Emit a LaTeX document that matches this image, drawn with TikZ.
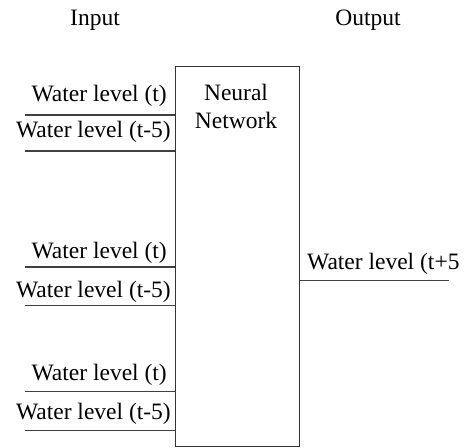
\documentclass[tikz,border=0pt]{standalone}
\usepackage{fontspec}
\setmainfont{Liberation Serif}
\begin{document}
\begin{tikzpicture}[x=1pt,y=-1pt,
  lbl/.style={inner sep=0pt, font=\fontsize{23.5}{28}\selectfont, text=black},
  wire/.style={draw=black!75, line width=1.1pt},
  nnbox/.style={draw=black!80, line width=1.2pt, minimum width=124pt, minimum height=380pt, inner sep=0pt}]
\useasboundingbox (0,0) rectangle (465,447);
\node[nnbox, anchor=north west] (nn) at (175,66) {};
\node[lbl, align=center, anchor=base] (nntext) at (236,128) {Neural\\Network};
\node[lbl, anchor=base] (inp) at (95,25) {Input};
\node[lbl, anchor=base] (outp) at (368,25) {Output};
% input lines
\coordinate (a1) at (25,115);
\coordinate (a2) at (25,151);
\coordinate (b1) at (25,267);
\coordinate (b2) at (25,305.5);
\coordinate (c1) at (25,391.5);
\coordinate (c2) at (25,430.5);
\foreach \c in {a1,a2,b1,b2,c1,c2} {\draw[wire] (\c) -- (\c -| nn.west);}
\node[lbl, anchor=base east] (la1) at (167,101) {Water level (t)};
\node[lbl, anchor=base east] (la2) at (171,137) {Water level (t-5)};
\node[lbl, anchor=base east] (lb1) at (167,258) {Water level (t)};
\node[lbl, anchor=base east] (lb2) at (171,297) {Water level (t-5)};
\node[lbl, anchor=base east] (lc1) at (167,380) {Water level (t)};
\node[lbl, anchor=base east] (lc2) at (171,419) {Water level (t-5)};
% output
\coordinate (o1) at (449,280.7);
\draw[wire] (nn.east |- o1) -- (o1);
\node[lbl, anchor=base west] (lo) at (307,269) {Water level (t+5};
\end{tikzpicture}
\end{document}
